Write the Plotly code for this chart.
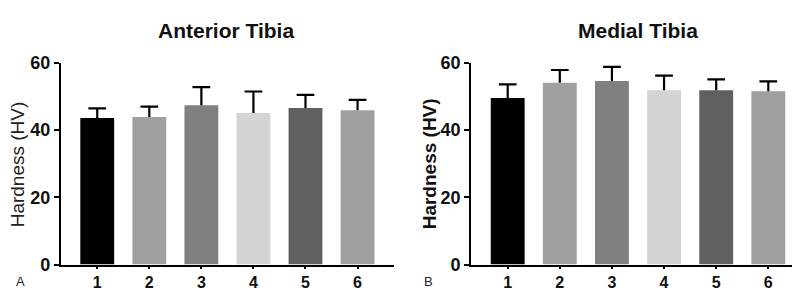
import plotly.graph_objects as go

categories = ["1", "2", "3", "4", "5", "6"]
anterior_mean = [43.6, 43.9, 47.4, 45.1, 46.6, 45.9]
anterior_sd = [2.9, 3.1, 5.4, 6.4, 3.9, 3.1]
medial_mean = [49.6, 54.1, 54.6, 51.9, 51.9, 51.6]
medial_sd = [4.0, 3.8, 4.2, 4.3, 3.2, 2.9]
bar_colors = ["#000000", "#a0a0a0", "#808080", "#d4d4d4", "#606060", "#a0a0a0"]
y_ticks = [0, 20, 40, 60]

FONT = "Liberation Sans, Arial, sans-serif"
CAP = 0.17  # half width of error cap, in category units

xpos = list(range(1, len(categories) + 1))

fig = go.Figure()
for means, sds, xa, ya in [(anterior_mean, anterior_sd, "x", "y"), (medial_mean, medial_sd, "x2", "y2")]:
    fig.add_trace(go.Bar(
        x=xpos, y=means, xaxis=xa, yaxis=ya,
        marker=dict(color=bar_colors, line=dict(width=0)),
        width=0.65, showlegend=False, hoverinfo="skip",
    ))
    ex, ey = [], []
    for xi, m, s in zip(xpos, means, sds):
        ex += [xi, xi, None, xi - CAP, xi + CAP, None]
        ey += [m, m + s, None, m + s, m + s, None]
    fig.add_trace(go.Scatter(
        x=ex, y=ey, xaxis=xa, yaxis=ya, mode="lines",
        line=dict(color="black", width=2.2), showlegend=False, hoverinfo="skip",
    ))

axis_common = dict(showline=True, linecolor="black", linewidth=2, mirror=False,
                   showgrid=False, zeroline=False)
xcommon = dict(axis_common, range=[0.3, 6.7], tickvals=xpos, ticktext=categories,
               ticks="outside", ticklen=2, tickwidth=2, tickcolor="black",
               tickfont=dict(family=FONT, size=16, color="#111", weight="bold"))
ycommon = dict(axis_common, range=[0, 60], tickvals=y_ticks, ticks="outside", ticklen=5,
               tickwidth=2, tickcolor="black",
               tickfont=dict(family=FONT, size=18, color="#111", weight="bold"))

annots = [
    ("<b>Anterior Tibia</b>", 218, 13, 0, 21, "#111"),
    ("<b>Medial Tibia</b>", 630, 13, 0, 21, "#111"),
    ("Hardness (HV)", 9, 157, -90, 19, "#222"),
    ("<b>Hardness (HV)</b>", 421, 157, -90, 19, "#111"),
    ("A", 12, 283, 0, 13, "#222"),
    ("B", 420, 283, 0, 13, "#222"),
]

fig.update_layout(
    width=800, height=294,
    margin=dict(l=0, r=0, t=0, b=0),
    paper_bgcolor="white", plot_bgcolor="white",
    xaxis=dict(xcommon, domain=[0.066, 0.4825], anchor="y"),
    yaxis=dict(ycommon, domain=[0.1, 0.836], anchor="x"),
    xaxis2=dict(xcommon, domain=[0.579, 0.996], anchor="y2"),
    yaxis2=dict(ycommon, domain=[0.1, 0.836], anchor="x2"),
    annotations=[
        dict(text=t, x=px / 800, y=1 - py / 294, xref="paper", yref="paper",
             textangle=ang, showarrow=False, xanchor="center", yanchor="middle",
             font=dict(family=FONT, size=sz, color=col))
        for t, px, py, ang, sz, col in annots
    ],
)

fig.write_html("out.html")
